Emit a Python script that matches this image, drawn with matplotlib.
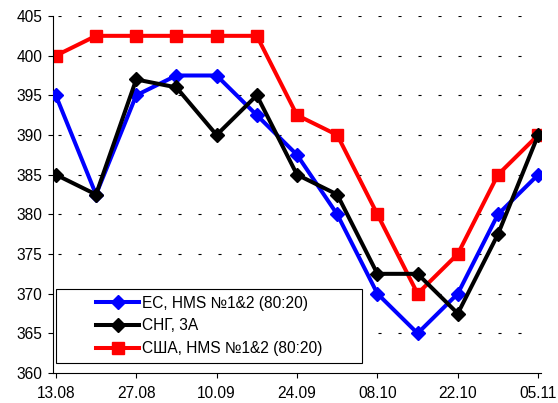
import matplotlib
matplotlib.use("Agg")
import matplotlib.pyplot as plt
from matplotlib.patches import Rectangle

dates = ["13.08", "20.08", "27.08", "03.09", "10.09", "17.09", "24.09",
         "01.10", "08.10", "15.10", "22.10", "29.10", "05.11"]
eu = [395, 382.5, 395, 397.5, 397.5, 392.5, 387.5, 380, 370, 365, 370, 380, 385]
cis = [385, 382.5, 397, 396, 390, 395, 385, 382.5, 372.5, 372.5, 367.5, 377.5, 390]
usa = [400, 402.5, 402.5, 402.5, 402.5, 402.5, 392.5, 390, 380, 370, 375, 385, 390]
labels = ["ЕС, HMS №1&2 (80:20)", "СНГ, 3А", "США, HMS №1&2 (80:20)"]
yticks = [360, 365, 370, 375, 380, 385, 390, 395, 400, 405]

plt.rcParams['font.family'] = ['Liberation Sans', 'DejaVu Sans']
plt.rcParams['lines.scale_dashes'] = False
W, H = 558, 403
fig = plt.figure(figsize=(W/100, H/100), dpi=100)
ax = fig.add_axes([53/W, 1-373/H, (541-53)/W, (373-16)/H])

x = list(range(len(dates)))
l1, = ax.plot(x, eu, color='#0000FF', lw=2.9, marker='D', ms=7.5, zorder=3)
l2, = ax.plot(x, cis, color='#000000', lw=2.9, marker='D', ms=7.5, zorder=4)
l3, = ax.plot(x, usa, color='#FF0000', lw=2.9, marker='s', ms=8, zorder=2)

ax.set_ylim(360, 405)
ax.set_xlim(-0.07, 12.07)
ax.set_yticks(yticks)
ax.set_xticks(x[::2])
ax.set_xticklabels(dates[::2])
ax.tick_params(axis='both', direction='out', length=3.6, width=0.8, labelsize=11.2, colors='black')
ax.tick_params(axis='x', pad=5.5)
ax.tick_params(axis='y', pad=4)
for s in ['top', 'right']:
    ax.spines[s].set_visible(False)
for s in ['left', 'bottom']:
    ax.spines[s].set_linewidth(0.8)

for yv in yticks[1:]:
    ax.plot([0.05, 11.8], [yv, yv], color='black', lw=0.8,
            linestyle=(0, (2.2, 12.2)), zorder=1)

rx0, rx1, ry0, ry1 = 56, 362, 289, 363
fig.patches.append(Rectangle((rx0/W, 1-ry1/H), (rx1-rx0)/W, (ry1-ry0)/H,
                             transform=fig.transFigure, fill=True, facecolor='white',
                             edgecolor='black', lw=0.8, zorder=5))
leg = fig.legend([l1, l2, l3], labels, loc='center',
                 bbox_to_anchor=(rx0/W, 1-ry1/H, (rx1-rx0)/W, (ry1-ry0)/H),
                 frameon=False, fontsize=11.2, handlelength=2.8, handletextpad=0.15,
                 labelspacing=0.5, numpoints=1, borderaxespad=0, borderpad=0)
leg.set_zorder(6)

fig.savefig("out.png", dpi=100)
